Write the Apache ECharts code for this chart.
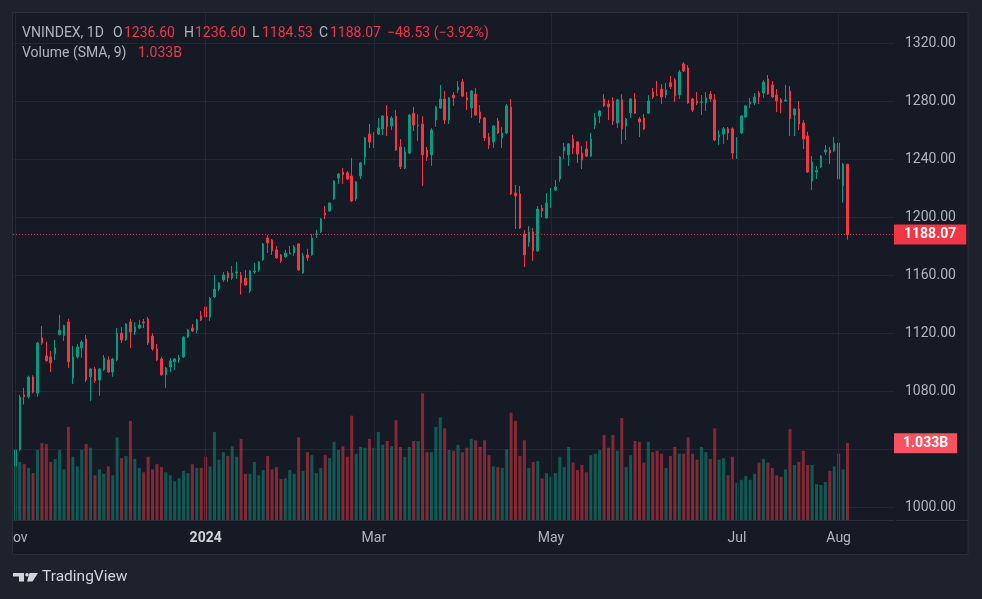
<!DOCTYPE html>
<html>
<head>
<meta charset="utf-8">
<script src="https://cdn.jsdelivr.net/npm/echarts/dist/echarts.min.js"></script>
<style>
html,body{margin:0;padding:0;background:#1e222d;}
#c{width:982px;height:599px;}
</style>
</head>
<body>
<div id="c"></div>
<script>
// ---------------- DATA ----------------
const symbol = 'VNINDEX, 1D';
const holidays = ['2024-01-01','2024-02-08','2024-02-09','2024-02-12','2024-02-13','2024-02-14',
  '2024-04-18','2024-04-29','2024-04-30','2024-05-01'];
const timeLabels = [['2023-11-01','Nov'],['2024-01-02','2024'],['2024-03-01','Mar'],
  ['2024-05-02','May'],['2024-07-01','Jul'],['2024-08-01','Aug']];
const priceTicks = [1000,1040,1080,1120,1160,1200,1240,1280,1320];

const open = [
1028.5,1039.8,1077.5,1076.2,1089.9,1078.7,1116.8,1104.4,1103.7,1105.8,
1119.1,1118.4,1127.8,1089.2,1103.7,1109.9,1116.1,1089.9,1095.4,1087.8,
1095.0,1101.6,1093.3,1101.6,1120.0,1115.4,1127.8,1120.9,1123.6,1127.8,
1129.9,1118.1,1109.2,1102.3,1091.3,1096.8,1100.3,1101.6,1103.7,1117.4,
1123.6,1122.2,1132.0,1138.2,1131.2,1145.0,1150.5,1156.8,1161.6,1158.1,
1161.6,1160.0,1158.1,1149.1,1162.3,1163.7,1170.6,1185.7,1184.4,1177.5,
1174.0,1172.7,1174.7,1175.4,1181.6,1161.6,1174.0,1174.0,1188.0,1190.0,
1202.9,1204.3,1212.6,1227.1,1231.2,1230.6,1228.5,1212.6,1228.5,1241.6,
1257.4,1256.1,1257.4,1260.9,1269.8,1263.0,1269.8,1248.5,1234.0,1244.3,
1271.8,1263.0,1264.3,1246.4,1243.0,1267.1,1275.4,1281.6,1267.1,1284.3,
1287.8,1293.3,1282.3,1275.4,1285.0,1272.6,1268.5,1255.4,1251.9,1266.4,
1254.7,1258.1,1276.1,1216.8,1216.1,1188.5,1183.0,1189.9,1176.8,1206.4,
1199.5,1211.2,1218.8,1226.4,1245.7,1243.0,1254.0,1252.0,1244.3,1247.1,
1242.2,1263.6,1269.8,1281.6,1278.2,1280.2,1265.0,1281.0,1262.9,1272.0,
1281.6,1267.8,1268.5,1271.8,1286.4,1284.5,1288.5,1284.3,1292.8,1294.8,
1284.3,1305.8,1303.0,1281.6,1280.2,1279.2,1278.8,1285.0,1281.0,1255.4,
1257.4,1261.0,1261.0,1244.3,1258.1,1269.1,1278.2,1278.8,1285.7,1285.7,
1295.4,1291.2,1284.3,1281.0,1280.2,1287.1,1270.5,1274.7,1265.0,1256.1,
1225.0,1231.2,1234.7,1245.0,1246.4,1245.7,1251.2,1221.6,1236.60];

const close = [
1039.5,1076.0,1076.2,1089.9,1079.4,1113.3,1113.3,1101.0,1099.6,1109.9,
1122.2,1125.3,1100.3,1103.7,1110.5,1114.0,1087.8,1095.4,1087.1,1095.4,
1103.0,1093.3,1102.3,1120.0,1115.4,1126.4,1120.9,1124.3,1125.7,1127.2,
1113.3,1109.2,1101.6,1091.3,1096.1,1101.0,1102.3,1103.0,1117.4,1122.2,
1121.5,1129.2,1129.2,1131.2,1144.3,1150.5,1154.7,1160.2,1158.1,1161.6,
1162.3,1154.7,1153.3,1163.0,1163.0,1169.2,1181.6,1182.3,1176.8,1172.0,
1169.9,1175.4,1175.4,1179.6,1163.7,1173.4,1172.0,1185.7,1188.5,1198.8,
1201.5,1209.8,1225.0,1229.9,1229.2,1226.4,1211.2,1224.4,1237.5,1254.7,
1251.9,1258.1,1261.6,1269.8,1262.3,1268.5,1246.4,1234.7,1245.0,1270.5,
1263.6,1263.6,1243.0,1241.6,1260.2,1276.1,1281.6,1267.1,1282.3,1282.3,
1289.9,1283.6,1280.9,1287.1,1270.5,1267.8,1254.7,1249.9,1263.0,1258.1,
1258.1,1276.8,1216.1,1214.7,1192.6,1174.0,1189.9,1176.8,1205.7,1204.3,
1209.8,1216.1,1220.9,1241.6,1248.5,1250.6,1247.8,1243.6,1239.5,1242.2,
1254.0,1268.5,1273.3,1276.8,1276.1,1266.4,1281.0,1260.9,1267.8,1281.6,
1271.8,1265.7,1260.9,1280.2,1283.0,1284.3,1283.0,1287.8,1290.0,1283.6,
1300.2,1300.9,1278.8,1274.0,1278.8,1279.6,1282.3,1281.6,1253.3,1256.8,
1261.0,1258.1,1244.3,1254.7,1269.8,1276.8,1279.6,1283.0,1283.0,1293.3,
1285.0,1283.0,1280.2,1278.8,1280.9,1267.8,1274.7,1264.3,1254.0,1231.2,
1238.2,1232.2,1242.2,1246.4,1244.3,1251.2,1226.4,1236.60,1188.07];

const low = [
1020.2,1038.5,1070.9,1075.0,1078.5,1076.2,1112.0,1100.5,1093.3,1101.6,
1118.5,1114.7,1096.1,1085.0,1102.5,1103.0,1086.5,1073.4,1085.7,1076.9,
1094.0,1092.5,1090.0,1100.8,1113.3,1114.7,1109.9,1118.8,1122.9,1123.6,
1111.9,1107.8,1101.0,1090.6,1082.3,1093.3,1094.7,1099.6,1103.0,1116.8,
1120.8,1120.0,1128.5,1128.5,1128.5,1144.3,1149.1,1155.4,1155.4,1156.8,
1157.5,1146.6,1152.6,1147.7,1160.9,1162.3,1170.0,1175.4,1174.0,1171.3,
1168.5,1172.0,1174.7,1173.4,1163.0,1161.0,1169.9,1173.4,1185.7,1189.2,
1198.8,1203.6,1211.9,1223.0,1223.0,1225.7,1210.5,1211.2,1226.4,1236.1,
1247.8,1247.8,1256.8,1256.8,1256.1,1260.2,1245.7,1233.3,1233.3,1243.6,
1259.5,1252.6,1221.6,1238.8,1235.4,1262.3,1274.7,1264.3,1264.3,1276.8,
1285.7,1283.0,1274.0,1268.5,1269.8,1265.0,1252.6,1247.1,1247.8,1257.4,
1247.8,1257.4,1215.4,1192.0,1192.0,1165.7,1179.6,1169.9,1176.1,1200.2,
1199.0,1206.4,1218.1,1224.4,1240.2,1235.4,1243.6,1237.5,1233.3,1241.6,
1241.6,1260.9,1265.0,1276.1,1267.1,1263.6,1261.6,1250.6,1253.3,1268.5,
1271.2,1255.4,1260.2,1271.2,1281.6,1283.6,1278.2,1282.3,1288.5,1279.6,
1281.6,1300.2,1278.2,1272.6,1277.4,1270.5,1273.3,1279.6,1252.6,1249.9,
1250.6,1253.3,1240.2,1240.2,1257.4,1268.5,1275.4,1277.4,1278.2,1282.3,
1284.3,1282.3,1272.6,1271.8,1279.5,1256.0,1256.0,1260.2,1247.1,1230.6,
1218.8,1226.4,1234.0,1243.0,1236.8,1245.0,1222.3,1210.0,1184.53];

const high = [
1041.0,1077.5,1082.4,1090.8,1091.0,1114.0,1125.0,1114.0,1107.8,1115.4,
1132.6,1126.0,1129.9,1111.2,1112.6,1115.4,1118.8,1096.0,1096.8,1096.1,
1105.0,1104.0,1103.0,1123.6,1124.3,1127.0,1129.9,1127.8,1129.2,1129.9,
1131.2,1120.0,1112.6,1103.7,1096.8,1103.0,1103.0,1105.0,1118.1,1123.0,
1126.4,1129.9,1135.4,1139.6,1145.0,1160.2,1155.4,1162.3,1163.0,1166.4,
1169.2,1162.3,1163.7,1163.7,1168.5,1170.0,1182.3,1187.8,1185.1,1180.2,
1174.7,1177.5,1180.2,1180.9,1182.3,1175.4,1178.2,1188.5,1191.3,1199.5,
1207.8,1210.5,1225.7,1230.6,1234.0,1232.0,1240.9,1225.0,1238.2,1255.4,
1264.3,1258.8,1268.5,1270.5,1277.4,1269.8,1274.0,1254.0,1248.5,1271.2,
1276.1,1271.0,1269.8,1248.5,1261.6,1276.8,1291.2,1287.1,1283.0,1286.4,
1294.0,1295.4,1286.4,1287.8,1289.2,1277.4,1269.2,1258.1,1263.7,1268.5,
1262.3,1278.2,1281.6,1222.3,1221.6,1191.3,1194.0,1192.6,1207.8,1208.5,
1216.8,1220.2,1225.7,1242.3,1251.2,1251.2,1256.8,1252.6,1249.2,1252.6,
1258.1,1272.0,1274.0,1285.0,1281.0,1282.9,1281.6,1285.0,1268.5,1282.3,
1285.7,1269.2,1271.2,1284.3,1289.2,1294.1,1291.8,1292.6,1297.4,1296.1,
1301.6,1307.0,1305.0,1282.3,1286.4,1284.3,1286.4,1287.1,1285.0,1260.2,
1262.3,1262.3,1262.0,1255.4,1270.5,1277.4,1282.3,1285.7,1287.1,1294.7,
1298.1,1294.0,1288.5,1282.3,1291.2,1290.5,1275.4,1280.2,1267.1,1259.0,
1242.3,1235.4,1242.9,1249.9,1248.5,1255.4,1258.1,1237.5,1236.60];

// volume in billions of shares
const volume = [
0.94,0.78,0.75,0.70,0.63,0.94,1.03,1.02,0.78,0.82,
0.94,0.68,1.25,0.85,0.72,0.94,1.02,0.97,0.60,0.68,
0.62,0.72,0.60,1.11,0.83,0.86,1.33,0.82,0.70,0.64,
0.85,0.68,0.75,0.71,0.64,0.60,0.52,0.56,0.66,0.63,
0.75,0.70,0.70,0.85,0.72,1.18,0.81,0.91,0.86,0.99,
0.85,1.09,0.62,0.62,0.78,0.60,0.67,0.86,0.68,0.71,
0.55,0.56,0.67,0.62,1.11,0.66,0.91,0.87,0.63,0.70,
0.87,0.83,1.05,0.94,0.99,0.85,1.40,0.89,0.98,0.97,
1.09,0.97,1.18,1.01,1.06,0.99,1.34,0.98,0.85,0.98,
1.06,1.06,1.70,0.91,0.91,1.25,1.38,1.23,0.94,0.93,
1.01,0.91,0.97,1.09,1.07,0.98,1.07,0.87,0.72,0.71,
0.70,0.95,1.44,1.33,0.86,1.07,0.70,0.78,0.79,0.56,
0.63,0.58,0.63,0.85,0.71,0.98,0.77,0.67,0.74,0.64,
0.87,0.89,0.94,1.14,0.97,1.14,0.93,1.37,0.71,0.87,
1.06,1.05,0.77,1.05,0.91,0.93,0.89,0.70,0.86,0.98,
0.89,0.89,1.11,0.89,0.81,0.98,0.91,0.82,1.23,0.81,
0.83,0.60,0.85,0.50,0.54,0.59,0.54,0.62,0.77,0.82,
0.77,0.70,0.60,0.58,0.68,1.22,0.74,0.78,0.93,0.74,
0.74,0.48,0.47,0.51,0.66,0.72,0.89,0.68,1.033];

// ---------------- CATEGORIES (trading calendar) ----------------
function tradingDays(startIso, count) {
  const out = [];
  const hol = new Set(holidays);
  const p = startIso.split('-').map(Number);
  let t = Date.UTC(p[0], p[1] - 1, p[2]);
  while (out.length < count) {
    const d = new Date(t);
    const wd = d.getUTCDay();
    const iso = d.toISOString().slice(0, 10);
    if (wd !== 0 && wd !== 6 && !hol.has(iso)) out.push(iso);
    t += 86400000;
  }
  return out;
}
const emptyRightBars = 10;
const dates = tradingDays('2023-11-01', close.length + emptyRightBars);

// ---------------- STYLE ----------------
const UP = '#089981', DOWN = '#f23645';
const UPV = 'rgba(8,153,129,0.5)', DOWNV = 'rgba(242,54,69,0.5)';
const GRID = '#232733', TXT = '#b2b5be', FONT = 'Roboto, sans-serif';
const OUTER = '#1e222d', PLOT = '#161a25';

const n = close.length;
const last = n - 1;
const candles = close.map((c, i) => [open[i], c, low[i], high[i]]);
const volBars = volume.map((v, i) => ({
  value: v, itemStyle: { color: close[i] >= open[i] ? UPV : DOWNV }
}));
const labelMap = {};
timeLabels.forEach(t => { labelMap[t[0]] = t[1]; });

const chg = close[last] - close[last - 1];
const pct = chg / close[last - 1] * 100;
const fmtSigned = v => (v < 0 ? '\u2212' : '+') + Math.abs(v).toFixed(2);
const valColor = chg < 0 ? DOWN : UP;

const chart = echarts.init(document.getElementById('c'));

function txt(x, y, text, fill, size, weight) {
  return { type: 'text', z: 100, x: x, y: y,
    style: { text: text, fill: fill, font: (weight || 'normal') + ' ' + (size || 14) + 'px ' + FONT,
      verticalAlign: 'middle', align: 'left' } };
}

chart.setOption({
  animation: false,
  backgroundColor: PLOT,
  grid: { left: 13, top: 13, width: 881, height: 507 },
  xAxis: {
    type: 'category', data: dates, boundaryGap: true,
    axisLine: { show: true, lineStyle: { color: '#2a2e39', width: 1 } },
    axisTick: { show: false },
    splitLine: { show: false },
    axisLabel: {
      interval: (idx, val) => labelMap[val] !== undefined,
      hideOverlap: false,
      margin: 11,
      formatter: (val) => /^\d{4}$/.test(labelMap[val]) ? '{b|' + labelMap[val] + '}' : '{n|' + labelMap[val] + '}',
      rich: {
        b: { fontFamily: FONT, fontSize: 14, fontWeight: 'bold', color: '#d1d4dc' },
        n: { fontFamily: FONT, fontSize: 14, color: TXT }
      }
    }
  },
  yAxis: [{
    type: 'value', position: 'right', min: 991.2, max: 1340.9, scale: true,
    axisLine: { show: false },
    axisTick: { show: false, customValues: priceTicks },
    splitLine: { show: true, lineStyle: { color: GRID, width: 1 } },
    axisLabel: { customValues: priceTicks, margin: 11, color: TXT, fontFamily: FONT, fontSize: 14,
      formatter: v => v.toFixed(2) }
  }, {
    type: 'value', min: 0, max: 6.805, show: false, splitLine: { show: false }
  }],
  series: [{
    type: 'line', data: [], silent: true, z: 0,
    markLine: {
      silent: true, symbol: ['none', 'none'], label: { show: false },
      lineStyle: { color: GRID, type: 'solid', width: 1 },
      data: timeLabels.map(t => ({ xAxis: t[0] }))
    }
  }, {
    name: 'Volume', type: 'bar', xAxisIndex: 0, yAxisIndex: 1, barWidth: 3, z: 1,
    data: volBars,
    markLine: {
      silent: true, symbol: ['none', 'none'],
      lineStyle: { color: 'rgba(0,0,0,0)', width: 1, type: 'solid' },
      data: [{ yAxis: volume[last] }],
      label: { show: true, position: 'end', distance: 0,
        formatter: () => volume[last].toFixed(3) + 'B',
        color: '#ffffff', backgroundColor: '#f7525f', fontFamily: FONT, fontSize: 14, fontWeight: 'bold',
        lineHeight: 14, padding: [3, 9, 3, 9] }
    }
  }, {
    name: symbol, type: 'candlestick', xAxisIndex: 0, yAxisIndex: 0, barWidth: 2, z: 3,
    data: candles,
    itemStyle: { color: UP, color0: DOWN, borderColor: UP, borderColor0: DOWN, borderWidth: 1 },
    markLine: {
      silent: true, symbol: ['none', 'none'],
      lineStyle: { color: DOWN, type: [1, 2], width: 1 },
      data: [{ yAxis: close[last] }],
      label: { show: true, position: 'end', distance: 0,
        formatter: () => close[last].toFixed(2),
        color: '#ffffff', backgroundColor: DOWN, fontFamily: FONT, fontSize: 14, fontWeight: 'bold',
        lineHeight: 14, padding: [3, 10, 3, 10] }
    }
  }],
  graphic: [
    { type: 'rect', z: 99, shape: { x: 0, y: 0, width: 982, height: 12 }, style: { fill: OUTER } },
    { type: 'rect', z: 99, shape: { x: 0, y: 0, width: 12, height: 599 }, style: { fill: OUTER } },
    { type: 'rect', z: 99, shape: { x: 968, y: 0, width: 14, height: 599 }, style: { fill: OUTER } },
    { type: 'rect', z: 99, shape: { x: 0, y: 555, width: 982, height: 44 }, style: { fill: OUTER } },
    { type: 'rect', z: 99, shape: { x: 12.5, y: 12.5, width: 955.5, height: 542 }, style: { fill: null, stroke: '#2a2e39', lineWidth: 1 } },
    { type: 'line', z: 99, shape: { x1: 896, y1: 520.5, x2: 968, y2: 520.5 }, style: { stroke: '#2a2e39', lineWidth: 1 } },
    // legend
    txt(22, 33, symbol, TXT),
    txt(113, 33, 'O', TXT), txt(124, 33, open[last].toFixed(2), valColor),
    txt(184, 33, 'H', TXT), txt(195, 33, high[last].toFixed(2), valColor),
    txt(252, 33, 'L', TXT), txt(262, 33, low[last].toFixed(2), valColor),
    txt(319, 33, 'C', TXT), txt(330, 33, close[last].toFixed(2), valColor),
    txt(387, 33, fmtSigned(chg) + ' (' + fmtSigned(pct) + '%)', valColor),
    txt(22, 53, 'Volume (SMA, 9)', TXT),
    txt(138, 53, volume[last].toFixed(3) + 'B', valColor),
    // footer logo
    { type: 'polygon', z: 100, shape: { points: [[13,573],[24,573],[24,581.5],[19,581.5],[19,576.5],[13,576.5]] }, style: { fill: '#d1d4dc' } },
    { type: 'circle', z: 100, shape: { cx: 27, cy: 574.8, r: 1.8 }, style: { fill: '#d1d4dc' } },
    { type: 'polygon', z: 100, shape: { points: [[29.5,573],[38,573],[32.5,581.5],[27,581.5]] }, style: { fill: '#d1d4dc' } },
    txt(42, 577.5, 'TradingView', '#d1d4dc', 15.5)
  ]
});
</script>
</body>
</html>
